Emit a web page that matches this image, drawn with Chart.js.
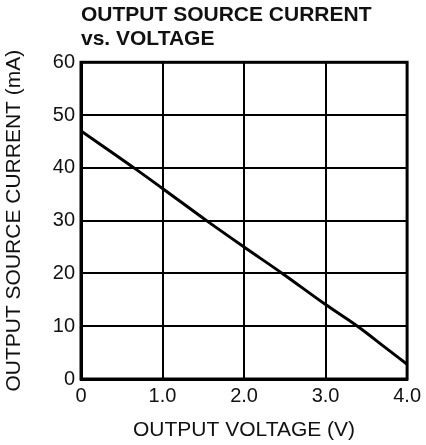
<!DOCTYPE html>
<html>
  <head>
    <title>Output Source Current vs. Voltage</title>
    <script src="https://cdn.jsdelivr.net/npm/chart.js@4"></script>
    <style>
      body { margin: 0; background: #fff; }
      #wrap { width: 426px; height: 445px; }
    </style>
  </head>
  <body>
    <div id="wrap"><canvas id="myChart" width="426" height="445"></canvas></div>
    <script>
      // values (V, mA)
      const voltage = [0, 0.65, 1.0, 1.54, 2.0, 2.47, 3.0, 3.4, 3.73, 4.0]
      const current = [47, 40, 36.1, 30, 25, 20, 14.1, 9.9, 6.0, 2.8]
      const titleLines = ["OUTPUT SOURCE CURRENT", "vs. VOLTAGE"]
      const xTitle = "OUTPUT VOLTAGE (V)"
      const yTitle = "OUTPUT SOURCE CURRENT (mA)"

      const points = voltage.map((v, i) => ({ x: v, y: current[i] }))
      const fontFam = "'Liberation Sans', Arial, sans-serif"
      const ink = "#111"

      new Chart("myChart", {
        type: "line",
        data: {
          datasets: [{
            data: points,
            borderColor: "#000",
            borderWidth: 3,
            pointRadius: 0,
            cubicInterpolationMode: "monotone",
            fill: false
          }]
        },
        options: {
          responsive: false,
          animation: false,
          layout: { padding: { left: 4, right: 16, top: 0, bottom: 0 } },
          plugins: {
            legend: { display: false },
            tooltip: { enabled: false },
            title: {
              display: true,
              text: titleLines,
              align: "start",
              fullSize: false,
              color: ink,
              font: { family: fontFam, size: 21, weight: "bold", lineHeight: 1.15 },
              padding: { top: 3, bottom: 11 }
            }
          },
          scales: {
            x: {
              type: "linear",
              min: 0,
              max: 4,
              ticks: {
                stepSize: 1,
                color: ink,
                padding: 5,
                font: { family: fontFam, size: 20 },
                callback: v => v === 0 ? "0" : v.toFixed(1)
              },
              grid: { color: "#000", lineWidth: 2, drawTicks: false },
              border: { color: "#000", width: 3 },
              title: {
                display: true,
                text: xTitle,
                color: ink,
                font: { family: fontFam, size: 21, lineHeight: 1 },
                padding: { top: 4, bottom: 4 }
              },
              afterFit: s => { s.height = 66 }
            },
            y: {
              min: 0,
              max: 60,
              ticks: {
                stepSize: 10,
                color: ink,
                padding: 6,
                font: { family: fontFam, size: 20 }
              },
              grid: { color: "#000", lineWidth: 2, drawTicks: false },
              border: { color: "#000", width: 3 },
              title: {
                display: true,
                text: yTitle,
                color: ink,
                font: { family: fontFam, size: 21, lineHeight: 1 },
                padding: { top: 0, bottom: 4 }
              },
              afterFit: s => { s.width = 77 }
            }
          }
        },
        plugins: [{
          // plot frame on all four sides
          id: "frame",
          afterDatasetsDraw(chart) {
            const a = chart.chartArea, c = chart.ctx
            c.save()
            c.strokeStyle = "#000"
            c.lineWidth = 3
            c.strokeRect(a.left, a.top, a.right - a.left, a.bottom - a.top)
            c.restore()
          }
        }]
      })
    </script>
  </body>
</html>
